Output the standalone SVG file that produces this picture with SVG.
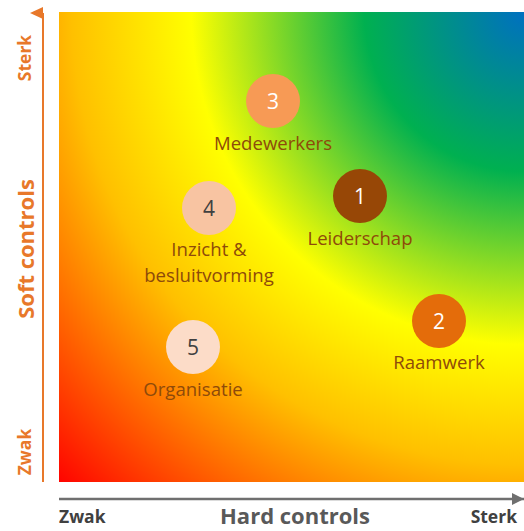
<svg xmlns="http://www.w3.org/2000/svg" width="524" height="531" viewBox="0 0 524 531">
<defs>
<radialGradient id="bg" gradientUnits="userSpaceOnUse" cx="524" cy="12" r="665">
<stop offset="0" stop-color="#0070C0"/>
<stop offset="0.24" stop-color="#00B050"/>
<stop offset="0.5" stop-color="#FFFF00"/>
<stop offset="0.68" stop-color="#FFC000"/>
<stop offset="1" stop-color="#FF0000"/>
</radialGradient>
<marker id="ao" markerWidth="12" markerHeight="13" refX="6" refY="13" orient="auto-start-reverse" markerUnits="userSpaceOnUse" viewBox="0 0 12 13">
<path d="M0,13 L6,0 L12,13 Z" fill="#E8782A"/>
</marker>
<marker id="ag" markerWidth="12" markerHeight="12" refX="12" refY="6" markerUnits="userSpaceOnUse" viewBox="0 0 12 12">
<path d="M0,0 L12,6 L0,12 Z" fill="#6F6F6F"/>
</marker>
<style>
.lbl{font-family:"Open Sans","Liberation Sans",sans-serif;font-size:18.6px;fill:#8E4A0A;text-anchor:middle}
.num{font-family:"Open Sans","Liberation Sans",sans-serif;font-size:21px;text-anchor:middle}
.ax{font-family:"Open Sans","Liberation Sans",sans-serif;font-weight:bold;font-size:17.5px}
.axo{fill:#E8782A}
.axg{fill:#404040}
</style>
</defs>
<rect x="59" y="12" width="465" height="470" fill="url(#bg)"/>
<g id="connectors">
<line x1="43" y1="482" x2="43" y2="13" stroke="#E8782A" stroke-width="2" marker-end="url(#ao)"/>
<line x1="59" y1="499" x2="524" y2="499" stroke="#6F6F6F" stroke-width="2.5" marker-end="url(#ag)"/>
</g>
<g id="axis-labels">
<text class="ax axo" transform="translate(31,58) rotate(-90)" text-anchor="middle">Sterk</text>
<text class="ax axo" transform="translate(31,452) rotate(-90)" text-anchor="middle">Zwak</text>
<text transform="translate(34,249) rotate(-90)" text-anchor="middle" style="font-family:'Open Sans','Liberation Sans',sans-serif;font-weight:bold;font-size:22px;fill:#E8782A">Soft controls</text>
<text class="ax axg" x="59" y="523">Zwak</text>
<text class="ax axg" x="517" y="523" text-anchor="end">Sterk</text>
<text x="295" y="524" text-anchor="middle" style="font-family:'Open Sans','Liberation Sans',sans-serif;font-weight:bold;font-size:22px;fill:#595959">Hard controls</text>
</g>
<g id="node3">
<circle cx="273" cy="101" r="27" fill="#F79A55"/>
<text class="num" x="273" y="109" fill="#FFFFFF">3</text>
<text class="lbl" x="273" y="150">Medewerkers</text>
</g>
<g id="node1">
<circle cx="360" cy="196" r="27" fill="#974706"/>
<text class="num" x="360" y="204" fill="#FFFFFF">1</text>
<text class="lbl" x="360" y="245">Leiderschap</text>
</g>
<g id="node4">
<circle cx="209" cy="208" r="27" fill="#F8C4A2"/>
<text class="num" x="209" y="216" fill="#404040">4</text>
<text class="lbl" x="209" y="256">Inzicht &amp;</text>
<text class="lbl" x="209" y="282">besluitvorming</text>
</g>
<g id="node5">
<circle cx="193" cy="347" r="27" fill="#FCDCC8"/>
<text class="num" x="193" y="355" fill="#404040">5</text>
<text class="lbl" x="193" y="396">Organisatie</text>
</g>
<g id="node2">
<circle cx="439" cy="321" r="27" fill="#E46C0A"/>
<text class="num" x="439" y="329" fill="#FFFFFF">2</text>
<text class="lbl" x="439" y="369">Raamwerk</text>
</g>
</svg>
